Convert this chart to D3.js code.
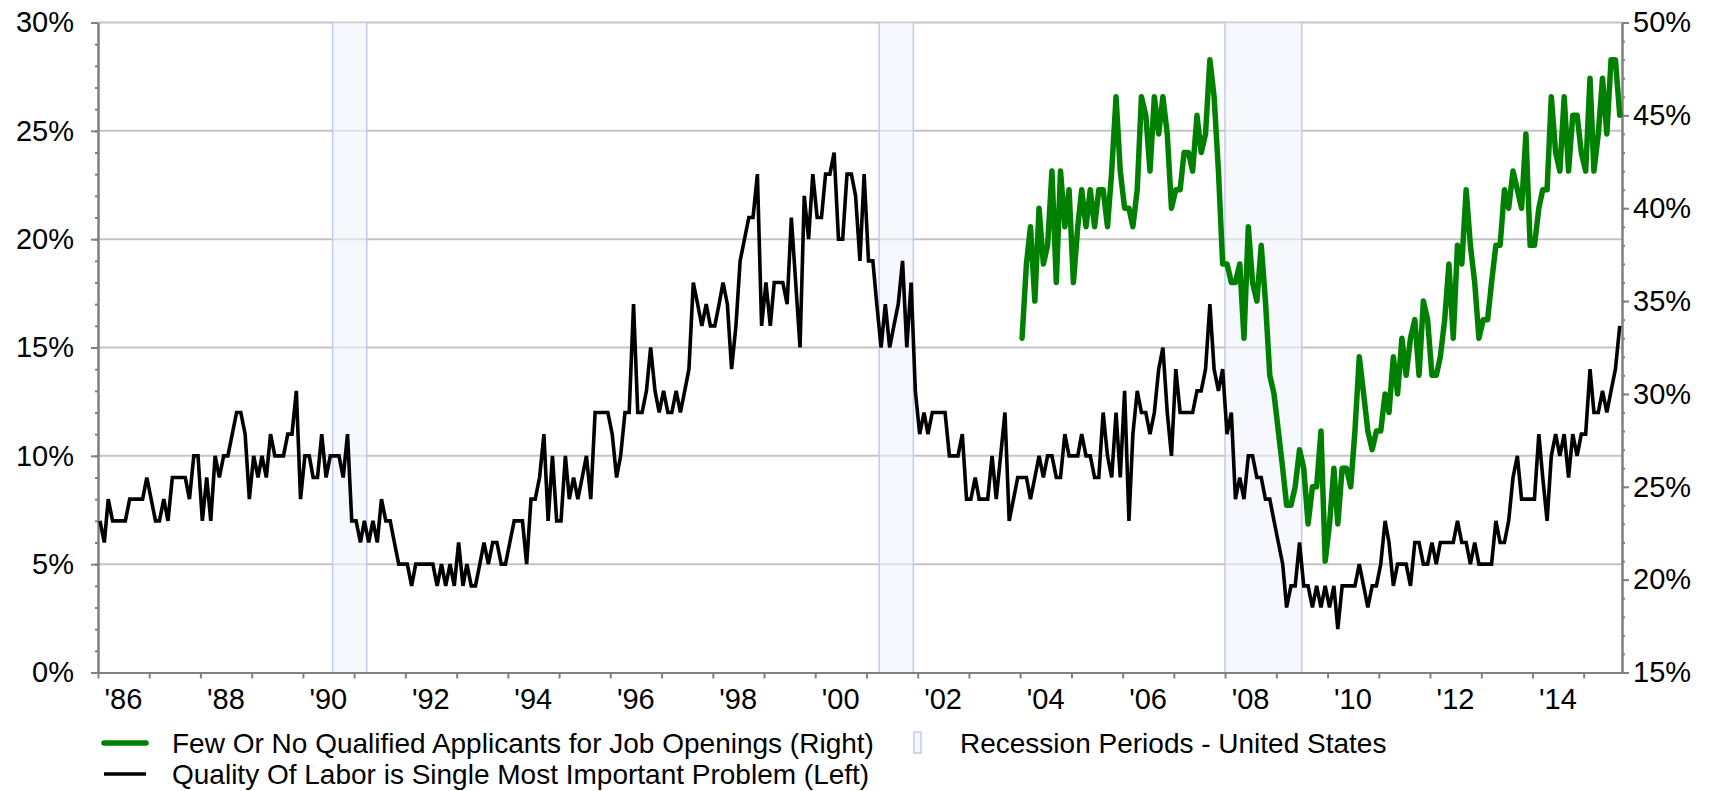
<!DOCTYPE html>
<html>
<head>
<meta charset="utf-8">
<script src="https://cdn.jsdelivr.net/npm/d3@7"></script>
<style>
  body { margin: 0; background: #fff; }
  text { font-family: "Liberation Sans", Arial, sans-serif; }
</style>
</head>
<body>
<div id="chart"></div>
<script>
var width = 1720;
var height = 791;
var margin = {top: 22.5, right: 98, bottom: 118.5, left: 98};

// monthly, Jan 1986 .. Sep 2015 (% of owners, left axis)
var laborStart = [1986, 0];
var laborQuality = [
  7, 6, 8, 7, 7, 7, 7, 8, 8, 8,
  8, 9, 8, 7, 7, 8, 7, 9, 9, 9,
  9, 8, 10, 10, 7, 9, 7, 10, 9, 10,
  10, 11, 12, 12, 11, 8, 10, 9, 10, 9,
  11, 10, 10, 10, 11, 11, 13, 8, 10, 10,
  9, 9, 11, 9, 10, 10, 10, 9, 11, 7,
  7, 6, 7, 6, 7, 6, 8, 7, 7, 6,
  5, 5, 5, 4, 5, 5, 5, 5, 5, 4,
  5, 4, 5, 4, 6, 4, 5, 4, 4, 5,
  6, 5, 6, 6, 5, 5, 6, 7, 7, 7,
  5, 8, 8, 9, 11, 7, 10, 7, 7, 10,
  8, 9, 8, 9, 10, 8, 12, 12, 12, 12,
  11, 9, 10, 12, 12, 17, 12, 12, 13, 15,
  13, 12, 13, 12, 12, 13, 12, 13, 14, 18,
  17, 16, 17, 16, 16, 17, 18, 17, 14, 16,
  19, 20, 21, 21, 23, 16, 18, 16, 18, 18,
  18, 17, 21, 18, 15, 22, 20, 23, 21, 21,
  23, 23, 24, 20, 20, 23, 23, 22, 19, 23,
  19, 19, 17, 15, 17, 15, 16, 17, 19, 15,
  18, 13, 11, 12, 11, 12, 12, 12, 12, 10,
  10, 10, 11, 8, 8, 9, 8, 8, 8, 10,
  8, 10, 12, 7, 8, 9, 9, 9, 8, 9,
  10, 9, 10, 10, 9, 9, 11, 10, 10, 10,
  11, 10, 10, 9, 9, 12, 10, 9, 12, 9,
  13, 7, 11, 13, 12, 12, 11, 12, 14, 15,
  12, 10, 14, 12, 12, 12, 12, 13, 13, 14,
  17, 14, 13, 14, 11, 12, 8, 9, 8, 10,
  10, 9, 9, 8, 8, 7, 6, 5, 3, 4,
  4, 6, 4, 4, 3, 4, 3, 4, 3, 4,
  2, 4, 4, 4, 4, 5, 4, 3, 4, 4,
  5, 7, 6, 4, 5, 5, 5, 4, 6, 6,
  5, 5, 6, 5, 6, 6, 6, 6, 7, 6,
  6, 5, 6, 5, 5, 5, 5, 7, 6, 6,
  7, 9, 10, 8, 8, 8, 8, 11, 9, 7,
  10, 11, 10, 11, 9, 11, 10, 11, 11, 14,
  12, 12, 13, 12, 13, 14, 16
];

// monthly, Jan 2004 .. Sep 2015 (% of owners, right axis)
var applicantsStart = [2004, 0];
var fewApplicants = [
  33, 37, 39, 35, 40, 37, 38, 42, 36, 42,
  39, 41, 36, 39, 41, 39, 41, 39, 41, 41,
  39, 42, 46, 42, 40, 40, 39, 41, 46, 45,
  42, 46, 44, 46, 44, 40, 41, 41, 43, 43,
  42, 45, 43, 44, 48, 46, 42, 37, 37, 36,
  36, 37, 33, 39, 36, 35, 38, 35, 31, 30,
  28, 26, 24, 24, 25, 27, 26, 23, 25, 25,
  28, 21, 23, 26, 23, 26, 26, 25, 28, 32,
  30, 28, 27, 28, 28, 30, 29, 32, 30, 33,
  31, 33, 34, 31, 35, 34, 31, 31, 32, 34,
  37, 33, 38, 37, 41, 38, 36, 33, 34, 34,
  36, 38, 38, 41, 40, 42, 41, 40, 44, 38,
  38, 40, 41, 41, 46, 43, 42, 46, 42, 45,
  45, 43, 42, 47, 42, 44, 47, 44, 48, 48,
  45
];

var recessionStarts = ["1990-08-01", "2001-04-01", "2008-01-01"];
var recessionEnds = ["1991-04-01", "2001-12-01", "2009-07-01"];

var leftTicks = [0, 5, 10, 15, 20, 25, 30];
var rightTicks = [15, 20, 25, 30, 35, 40, 45, 50];
var yearLabels = [1986, 1988, 1990, 1992, 1994, 1996, 1998, 2000, 2002, 2004, 2006, 2008, 2010, 2012, 2014];

var parseDate = d3.timeParse("%Y-%m-%d");

function toSeries(start, values) {
  return values.map(function(v, i) {
    return {date: new Date(start[0], start[1] + i, 15), value: v};
  });
}
var blackData = toSeries(laborStart, laborQuality);
var greenData = toSeries(applicantsStart, fewApplicants);

var x = d3.scaleTime()
  .domain([new Date(1986, 0, 1), new Date(2015, 9, 1)])
  .range([margin.left, width - margin.right]);
var yLeft = d3.scaleLinear().domain([0, 30]).range([height - margin.bottom, margin.top]);
var yRight = d3.scaleLinear().domain([15, 50]).range([height - margin.bottom, margin.top]);

var svg = d3.select("#chart").append("svg")
  .attr("width", width)
  .attr("height", height);

// grid lines
svg.append("g").selectAll("line")
  .data(leftTicks.filter(function(d) { return d > 0; }))
  .enter().append("line")
  .attr("x1", margin.left)
  .attr("x2", width - margin.right)
  .attr("y1", function(d) { return yLeft(d); })
  .attr("y2", function(d) { return yLeft(d); })
  .style("stroke", "#c4c4c4")
  .style("stroke-width", 2);

// recession shading
var bands = svg.append("g").selectAll("g")
  .data(recessionStarts.map(function(s, i) { return [parseDate(s), parseDate(recessionEnds[i])]; }))
  .enter().append("g");
bands.append("rect")
  .attr("x", function(d) { return x(d[0]); })
  .attr("y", margin.top)
  .attr("width", function(d) { return x(d[1]) - x(d[0]); })
  .attr("height", height - margin.bottom - margin.top)
  .style("fill", "#f1f3fc")
  .style("fill-opacity", 0.6);
bands.selectAll("line")
  .data(function(d) { return d; })
  .enter().append("line")
  .attr("x1", function(d) { return x(d); })
  .attr("x2", function(d) { return x(d); })
  .attr("y1", margin.top)
  .attr("y2", height - margin.bottom)
  .style("stroke", "#bfcbef")
  .style("stroke-width", 1.5);

// axes
function styleAxis(g) {
  g.select(".domain").style("stroke", "#808080").style("stroke-width", 2);
  g.selectAll(".tick line").style("stroke", "#808080").style("stroke-width", 2);
  g.selectAll(".tick text").style("font-size", "29px").style("fill", "#000")
    .style("font-family", "'Liberation Sans', Arial, sans-serif");
}

svg.append("g")
  .attr("transform", "translate(" + margin.left + ",0)")
  .call(d3.axisLeft(yLeft).tickValues(d3.range(0, 31, 1)).tickSize(3).tickSizeOuter(0).tickFormat(""))
  .call(styleAxis);
svg.append("g")
  .attr("transform", "translate(" + margin.left + ",0)")
  .call(d3.axisLeft(yLeft).tickValues(leftTicks).tickSize(7).tickSizeOuter(0).tickPadding(17)
    .tickFormat(function(d) { return d + "%"; }))
  .call(styleAxis);

svg.append("g")
  .attr("transform", "translate(" + (width - margin.right) + ",0)")
  .call(d3.axisRight(yRight).tickValues(d3.range(15, 51, 1)).tickSize(3).tickSizeOuter(0).tickFormat(""))
  .call(styleAxis);
svg.append("g")
  .attr("transform", "translate(" + (width - margin.right) + ",0)")
  .call(d3.axisRight(yRight).tickValues(rightTicks).tickSize(7).tickSizeOuter(0).tickPadding(4)
    .tickFormat(function(d) { return d + "%"; }))
  .call(styleAxis);

var xAxisG = svg.append("g")
  .attr("transform", "translate(0," + (height - margin.bottom) + ")")
  .call(d3.axisBottom(x).ticks(d3.timeYear.every(1)).tickSize(6).tickSizeOuter(0).tickFormat(""))
  .call(styleAxis);
xAxisG.selectAll(".yearlabel")
  .data(yearLabels)
  .enter().append("text")
  .attr("class", "yearlabel")
  .attr("x", function(d) { return x(new Date(d, 6, 1)); })
  .attr("y", 36)
  .attr("text-anchor", "middle")
  .style("font-size", "29px")
  .style("fill", "#000")
  .text(function(d) { return "'" + String(d).slice(2); });

// series
var lineLeft = d3.line()
  .x(function(d) { return x(d.date); })
  .y(function(d) { return yLeft(d.value); });
var lineRight = d3.line()
  .x(function(d) { return x(d.date); })
  .y(function(d) { return yRight(d.value); });

svg.append("path")
  .datum(blackData)
  .attr("d", lineLeft)
  .style("fill", "none")
  .style("stroke", "#000")
  .style("stroke-width", 3.6)
  .style("stroke-linejoin", "miter")
  .style("stroke-miterlimit", 3);

svg.append("path")
  .datum(greenData)
  .attr("d", lineRight)
  .style("fill", "none")
  .style("stroke", "#008000")
  .style("stroke-width", 5.5)
  .style("stroke-linejoin", "round")
  .style("stroke-linecap", "round");

// legend
var legend = svg.append("g").style("font-size", "28px");
legend.append("line")
  .attr("x1", 104).attr("x2", 146).attr("y1", 743).attr("y2", 743)
  .style("stroke", "#008000").style("stroke-width", 5.5).style("stroke-linecap", "round");
legend.append("text")
  .attr("x", 172).attr("y", 753)
  .text("Few Or No Qualified Applicants for Job Openings (Right)");
legend.append("rect")
  .attr("x", 914).attr("y", 732).attr("width", 7).attr("height", 21)
  .style("fill", "#f6f8fe").style("stroke", "#bfcbef").style("stroke-width", 1.5);
legend.append("text")
  .attr("x", 960).attr("y", 753)
  .text("Recession Periods - United States");
legend.append("line")
  .attr("x1", 104).attr("x2", 146).attr("y1", 774).attr("y2", 774)
  .style("stroke", "#000").style("stroke-width", 3.6);
legend.append("text")
  .attr("x", 172).attr("y", 784)
  .text("Quality Of Labor is Single Most Important Problem (Left)");
</script>
</body>
</html>
